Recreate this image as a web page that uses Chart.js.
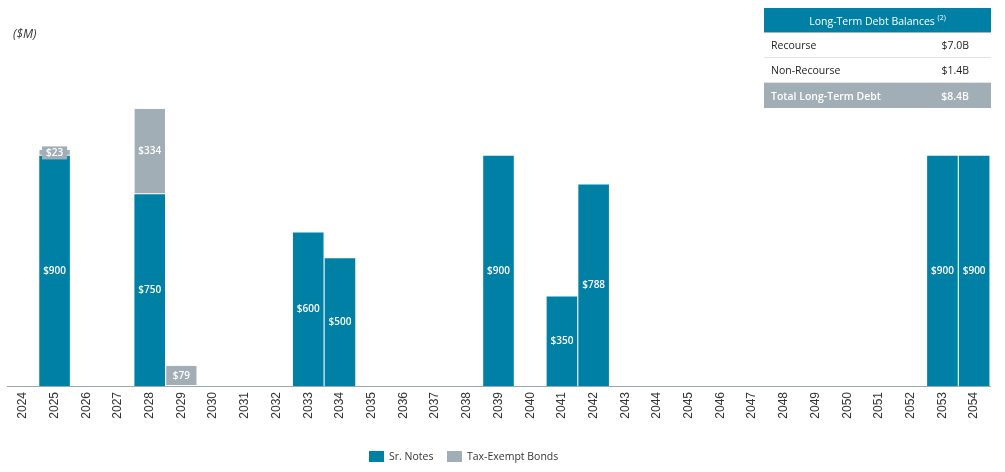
<!DOCTYPE html>
<html>
<head>
<meta charset="utf-8">
<script src="https://cdn.jsdelivr.net/npm/chart.js@4.4.1/dist/chart.umd.min.js"></script>
<style>
  html, body { margin: 0; padding: 0; background: #fff; }
  #wrap { position: relative; width: 1005px; height: 472px; font-family: "Open Sans", sans-serif; }
  #c { position: absolute; left: 0; top: 0; }
  #unit { position: absolute; left: 13px; top: 25px; font-size: 12px; font-style: italic; color: #333; }
  #tbl { position: absolute; left: 764px; top: 8px; width: 227px; border-collapse: collapse; font-size: 10.5px; color: #222; }
  #tbl td, #tbl th { height: 24px; padding: 0 7px; }
  #tbl th { height: 24px; background: #0080A4; color: #fff; font-weight: 400; text-align: center; border-bottom: 1px solid #9fb6c2; }
  #tbl th sup { font-size: 7px; }
  #tbl td { border-bottom: 1px solid #e2e2e2; }
  #tbl td.v { text-align: right; padding-right: 22px; }
  #tbl tr.tot td { height: 25px; background: #A2AEB5; color: #fff; font-weight: 600; border-bottom: none; }
  .li { position: absolute; top: 449px; display: flex; align-items: center; font-size: 10.5px; color: #333; white-space: nowrap; }
  .sw { width: 15px; height: 11px; margin-right: 5px; }
</style>
</head>
<body>
<div id="wrap">
  <canvas id="c" width="1005" height="472"></canvas>
  <div id="unit">($M)</div>
  <table id="tbl">
    <tr><th colspan="2">Long-Term Debt Balances <sup>(2)</sup></th></tr>
    <tr><td>Recourse</td><td class="v">$7.0B</td></tr>
    <tr><td>Non-Recourse</td><td class="v">$1.4B</td></tr>
    <tr class="tot"><td>Total Long-Term Debt</td><td class="v">$8.4B</td></tr>
  </table>
  <div class="li" style="left:369px"><div class="sw" style="background:#0080A4"></div>Sr. Notes</div>
  <div class="li" style="left:447px"><div class="sw" style="background:#A2AEB5"></div>Tax-Exempt Bonds</div>
</div>
<script>
const years = ["2024","2025","2026","2027","2028","2029","2030","2031","2032","2033","2034","2035","2036","2037","2038","2039","2040","2041","2042","2043","2044","2045","2046","2047","2048","2049","2050","2051","2052","2053","2054"];
const srNotes = [0,900,0,0,750,0,0,0,0,600,500,0,0,0,0,900,0,350,788,0,0,0,0,0,0,0,0,0,0,900,900];
const taxExempt = [0,23,0,0,334,79,0,0,0,0,0,0,0,0,0,0,0,0,0,0,0,0,0,0,0,0,0,0,0,0,0];

const TEAL = "#0080A4", GREY = "#A2AEB5";

const labelPlugin = {
  id: "barLabels",
  afterDatasetsDraw(chart) {
    const ctx = chart.ctx;
    ctx.save();
    ctx.font = "600 10px 'Open Sans', sans-serif";
    ctx.textAlign = "center";
    ctx.textBaseline = "middle";
    chart.data.datasets.forEach((ds, di) => {
      const meta = chart.getDatasetMeta(di);
      meta.data.forEach((bar, i) => {
        const v = ds.data[i];
        if (!v) return;
        const cy = (bar.y + bar.base) / 2;
        const txt = "$" + v;
        const h = Math.abs(bar.base - bar.y);
        if (h < 14) {
          const w = ctx.measureText(txt).width + 8;
          ctx.fillStyle = ds.backgroundColor;
          ctx.fillRect(bar.x - w / 2, cy - 6.5, w, 13);
        }
        ctx.fillStyle = "#fff";
        ctx.fillText(txt, bar.x, cy);
      });
    });
    ctx.restore();
  }
};

new Chart(document.getElementById("c"), {
  type: "bar",
  data: {
    labels: years,
    datasets: [
      { label: "Sr. Notes", data: srNotes, backgroundColor: TEAL, barPercentage: 0.965, categoryPercentage: 1 },
      { label: "Tax-Exempt Bonds", data: taxExempt, backgroundColor: GREY, barPercentage: 0.965, categoryPercentage: 1,
        borderColor: "#fff", borderWidth: { bottom: 1, top: 0, left: 0, right: 0 }, borderSkipped: false }
    ]
  },
  options: {
    responsive: false,
    animation: false,
    layout: { padding: { left: 7, right: 15, top: 28, bottom: 0 } },
    plugins: { legend: { display: false }, tooltip: { enabled: false } },
    scales: {
      x: {
        stacked: true,
        grid: { display: false, drawTicks: false },
        border: { display: true, color: "#9aa7ae", width: 1 },
        ticks: { minRotation: 90, maxRotation: 90, autoSkip: false, padding: 6, color: "#333", font: { family: "'Liberation Sans', Arial, sans-serif", size: 12 } },
        afterFit(scale) { scale.height = 86; }
      },
      y: { stacked: true, display: false, min: 0, max: 1400 }
    }
  },
  plugins: [labelPlugin]
});
</script>
</body>
</html>
